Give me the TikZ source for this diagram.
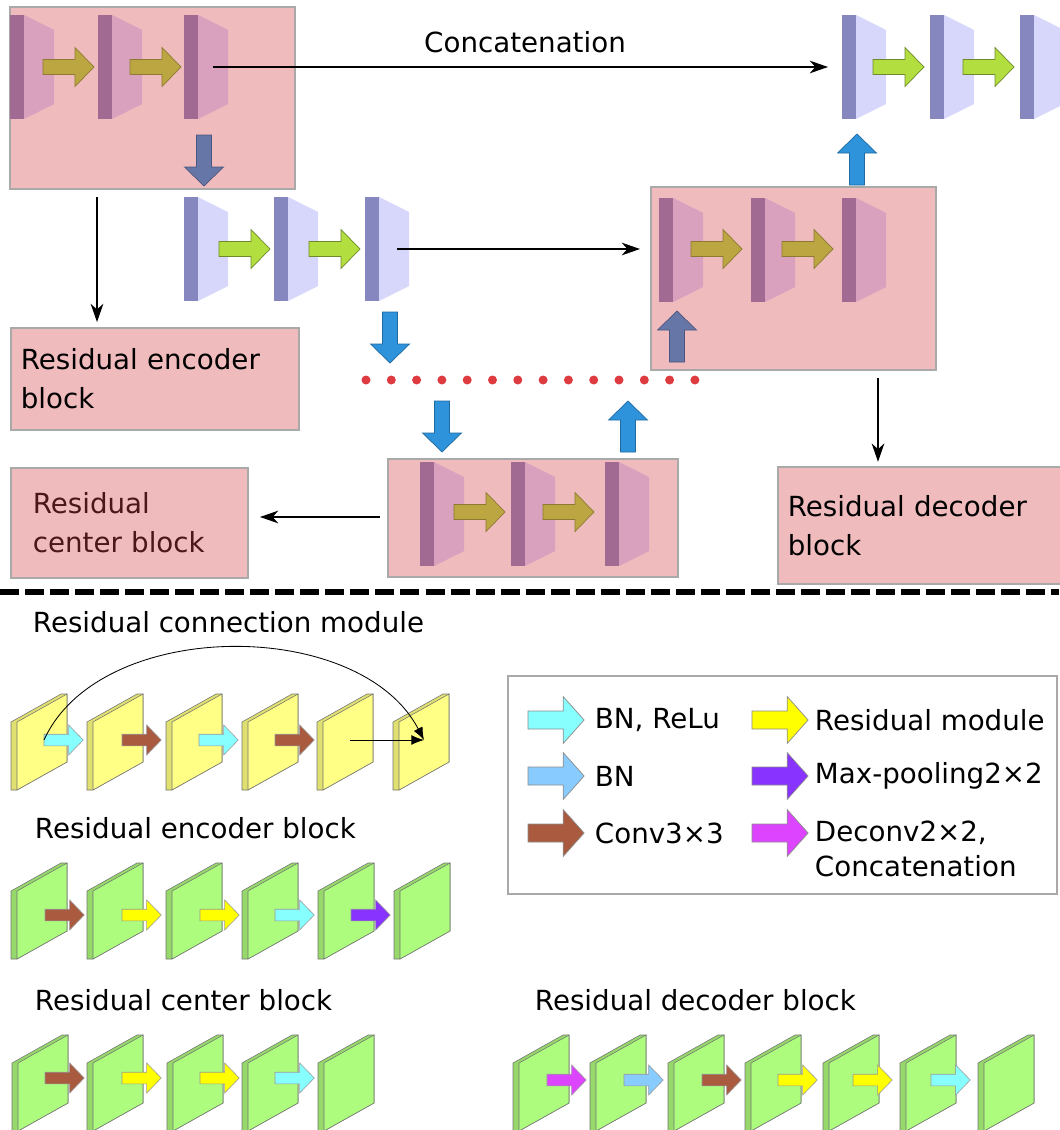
\documentclass[tikz,border=0pt]{standalone}
\usepackage{fontspec}
\setmainfont{DejaVu Sans}
\usetikzlibrary{arrows.meta}
\definecolor{boxpink}{HTML}{F0BBBD}
\definecolor{boxline}{HTML}{A9A9A9}
\definecolor{pinkbar}{HTML}{A06A93}
\definecolor{pinkface}{HTML}{D9A1BE}
\definecolor{bluebar}{HTML}{8787BF}
\definecolor{blueface}{HTML}{D7D7FC}
\definecolor{olive}{HTML}{BBA641}
\definecolor{olivedark}{HTML}{8B7A30}
\definecolor{lime}{HTML}{B2DE3F}
\definecolor{limedark}{HTML}{6E8A2A}
\definecolor{slate}{HTML}{6676A6}
\definecolor{slatedark}{HTML}{4A5580}
\definecolor{sky}{HTML}{2E93DB}
\definecolor{skydark}{HTML}{1E6AA0}
\definecolor{dotred}{HTML}{DD3B3F}
\definecolor{darkred}{HTML}{4A1818}
\definecolor{greenface}{HTML}{ADFC7E}
\definecolor{greenside}{HTML}{96D86A}
\definecolor{yellowface}{HTML}{FFFF85}
\definecolor{yellowside}{HTML}{E0E070}
\definecolor{acyan}{HTML}{88FFFF}
\definecolor{abrown}{HTML}{AA5A3E}
\definecolor{ayellow}{HTML}{FFFF00}
\definecolor{apurple}{HTML}{8833FF}
\definecolor{ablue}{HTML}{88CCFF}
\definecolor{amagenta}{HTML}{DD44FF}

\begin{document}
\begin{tikzpicture}[
  x=0.025cm, y=-0.025cm,
  font=\fontsize{19.7}{27.5}\selectfont,
  box/.style={draw=boxline, fill=boxpink, line width=1.2pt},
  lblbox/.style={box, align=left, anchor=north west, inner ysep=0pt},
  arr/.style={-{Stealth[length=13pt, width=9pt, inset=4pt]}, line width=0.9pt},
  skip/.style={-{Latex[length=9pt, width=7pt]}, line width=0.6pt},
  slab/.pic={
    \fill[#1bar] (0,0) rectangle (14,104);
    \fill[#1face] (14,0) -- (44,15) -- (44,89) -- (14,104) -- cycle;
  },
  sheet/.pic={
    \filldraw[#1side, draw=black!55, line width=0.4pt]
      (-6,0) -- (44,-28) -- (50,-28) -- (50,40) -- (0,68) -- (-6,68) -- cycle;
    \filldraw[#1face, draw=black!55, line width=0.4pt]
      (0,0) -- (50,-28) -- (50,40) -- (0,68) -- cycle;
  },
  barrow/.pic={
    \path[pic actions] (0,-7.5) -- (32,-7.5) -- (32,-19.5) -- (51,0)
      -- (32,19.5) -- (32,7.5) -- (0,7.5) -- cycle;
  },
  tinyarr/.style={scale=0.77, draw=black!40, line width=0.4pt},
  legarr/.style={xscale=1.1, yscale=1.2, draw=black!45, line width=0.5pt},
  oarr/.style={fill=olive, draw=olivedark, line width=0.5pt},
  garr/.style={fill=lime, draw=limedark, line width=0.5pt},
  varr/.style={fill=sky, draw=skydark, line width=0.5pt},
]
\useasboundingbox (0,0) rectangle (1059,1130);

% first encoder level
\draw[box] (10,7) rectangle (295,189);
\foreach \x in {10,98,184} \pic at (\x,15) {slab=pink};
\foreach \x in {43,130} \pic[oarr] at (\x,67) {barrow};
\pic[rotate=-90, fill=slate, draw=slatedark, line width=0.5pt] at (204,135) {barrow};

% last decoder level
\foreach \x in {842,930,1020} \pic at (\x,15) {slab=blue};
\foreach \x in {873,963} \pic[garr] at (\x,67) {barrow};
\pic[rotate=90, varr] at (857,185) {barrow};
\node (concat) at (525,42) {Concatenation};

% second level
\foreach \x in {184,274,365} \pic at (\x,197) {slab=blue};
\foreach \x in {219,309} \pic[garr] at (\x,249) {barrow};
\draw[box] (651,187) rectangle (936,370);
\foreach \x in {659,751,842} \pic at (\x,198) {slab=pink};
\foreach \x in {691,782} \pic[oarr] at (\x,249) {barrow};
\pic[rotate=90, fill=slate, draw=slatedark, line width=0.5pt] at (677,362) {barrow};
\pic[rotate=-90, varr] at (390,312) {barrow};

% skipped levels
\foreach \i in {0,...,13} \fill[dotred] (366+25.3*\i,380) circle (4.5);
\pic[rotate=-90, varr] at (442,401) {barrow};
\pic[rotate=90, varr] at (628,452) {barrow};

% center level
\draw[box] (388,459) rectangle (678,577);
\foreach \x in {420,511,605} \pic at (\x,462) {slab=pink};
\foreach \x in {454,543} \pic[oarr] at (\x,512) {barrow};

\node[lblbox, minimum width=7.2cm, minimum height=2.55cm, text width=6.7cm,
  inner xsep=0.25cm] (enc) at (10,327) {Residual encoder\\block};
\node[lblbox, minimum width=5.925cm, minimum height=2.75cm, text width=4.825cm,
  inner xsep=0.55cm, text=darkred] (cen) at (10,467) {Residual\\center block};
\node[lblbox, minimum width=7.25cm, minimum height=2.925cm, text width=6.75cm,
  inner xsep=0.25cm] (dec) at (777,466) {Residual decoder\\block};

\coordinate (e3) at (213,67);
\coordinate (d1) at (828,67);
\coordinate (m3) at (397,249);
\coordinate (u1) at (640,249);
\coordinate (encout) at (97,197);
\coordinate (decout) at (878,378);
\coordinate (cenout) at (380,517);
\draw[arr] (e3) -- (d1);
\draw[arr] (m3) -- (u1);
\draw[arr, shorten >=3.5pt] (encout) -- (encout |- enc.north);
\draw[arr, shorten >=3pt] (decout) -- (decout |- dec.north);
\draw[arr, shorten >=8pt] (cenout) -- (cenout -| cen.east);

\draw[line width=4pt, dash pattern=on 13.5pt off 4.3pt] (0,592) -- (1059,592);

% residual connection module
\node[anchor=west] (tres) at (28,622) {Residual connection module};
\foreach \x in {17,93,172,248,323,399} \pic at (\x,722) {sheet=yellow};
\foreach \x/\c in {44/acyan,122/abrown,199/acyan,275/abrown}
  \pic[tinyarr, fill=\c] at (\x,740) {barrow};
\coordinate (rin) at (44,740);
\coordinate (rmid) at (350,740);
\coordinate (rout) at (424,740);
\draw[skip] (rmid) -- (rout);
\draw[skip] (rin) .. controls (100,617) and (360,617) .. (rout);

% residual encoder block
\node[anchor=west] (tenc) at (30,828) {Residual encoder block};
\foreach \x in {17,93,172,248,324,400} \pic at (\x,891) {sheet=green};
\foreach \x/\c in {45/abrown,122/ayellow,200/ayellow,275/acyan,351/apurple}
  \pic[tinyarr, fill=\c] at (\x,915) {barrow};

% residual center block
\node[anchor=west] (tcen) at (30,1000) {Residual center block};
\foreach \x in {18,93,173,248,324} \pic at (\x,1063) {sheet=green};
\foreach \x/\c in {45/abrown,122/ayellow,200/ayellow,275/acyan}
  \pic[tinyarr, fill=\c] at (\x,1078) {barrow};

% residual decoder block
\node[anchor=west] (tdec) at (530,1000) {Residual decoder block};
\foreach \x in {519,596,674,751,829,906,984} \pic at (\x,1063) {sheet=green};
\foreach \x/\c in {547/amagenta,624/ablue,702/abrown,778/ayellow,853/ayellow,931/acyan}
  \pic[tinyarr, fill=\c] at (\x,1080) {barrow};

% legend
\draw[draw=boxline, line width=1pt] (508,676) rectangle (1057,894);
\foreach \y/\c in {720/acyan,776/ablue,833/abrown}
  \pic[legarr, fill=\c] at (528,\y) {barrow};
\foreach \y/\c in {720/ayellow,776/apurple,833/amagenta}
  \pic[legarr, fill=\c] at (752,\y) {barrow};
\node[anchor=west] (lbnr) at (590,720) {BN, ReLu};
\node[anchor=west] (lbn) at (590,776) {BN};
\node[anchor=west] (lconv) at (590,833) {Conv3×3};
\node[anchor=west] (lres) at (810,720) {Residual module};
\node[anchor=west] (lpool) at (810,776) {Max-pooling2×2};
\node[anchor=west, align=left, font=\fontsize{19.7}{25}\selectfont] (ldeconv)
  at (810,849) {Deconv2×2,\\Concatenation};
\end{tikzpicture}
\end{document}
